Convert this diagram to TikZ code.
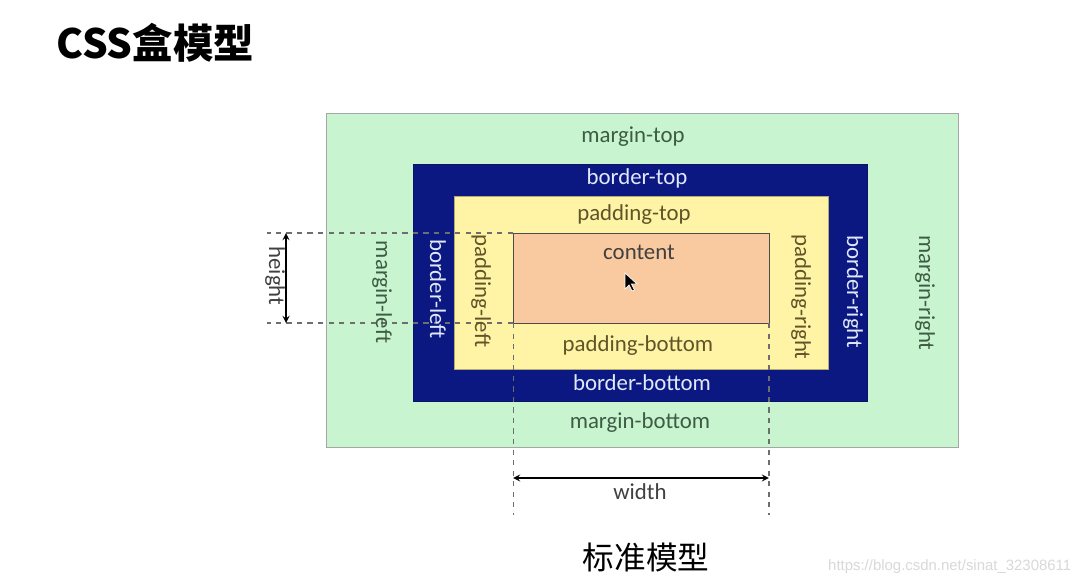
\documentclass[tikz,border=0pt]{standalone}
\usepackage{fontspec}
\usepackage{xcolor}
\usetikzlibrary{positioning}
\setmainfont{Carlito}
\newfontfamily\cjk{Noto Sans CJK SC}
\newfontfamily\urlfont{Liberation Sans}
\definecolor{mintgreen}{RGB}{200,244,208}
\definecolor{navyblue}{RGB}{12,24,130}
\definecolor{paleyellow}{RGB}{255,244,165}
\definecolor{peach}{RGB}{249,201,160}
\definecolor{margintext}{RGB}{62,92,68}
\definecolor{bordertext}{RGB}{225,232,250}
\definecolor{paddingtext}{RGB}{96,84,40}
\definecolor{guidegray}{RGB}{110,110,110}

\begin{document}
\begin{tikzpicture}[
    x=0.02cm, y=-0.02cm,
    font=\fontsize{13}{15}\selectfont,
    box/.style={draw, rectangle, inner sep=0pt, outer sep=0pt},
    lbl/.style={inner sep=1pt},
    side/.style={lbl, rotate=-90},
    guide/.style={draw=guidegray, dashed, line width=0.6pt},
    >=stealth,
  ]
    \useasboundingbox[fill=white] (0,0) rectangle (1090,586);

    \node[anchor=west, inner sep=0pt, font=\cjk\bfseries\fontsize{23}{26}\selectfont]
      (title) at (56,43) {CSS盒模型};

    % the four nested boxes
    \node[box, draw=gray!70, fill=mintgreen, minimum width=12.64cm, minimum height=6.68cm]
      (margin) at (642,280) {};
    \node[box, draw=navyblue!80!black, fill=navyblue, minimum width=9.08cm, minimum height=4.74cm]
      (border) at (640,282.5) {};
    \node[box, draw=paleyellow!70!black, fill=paleyellow, minimum width=7.48cm, minimum height=3.46cm]
      (padding) at (641,282.5) {};
    \node[box, draw=black!70, fill=peach, minimum width=5.12cm, minimum height=1.8cm]
      (content) at (641,278) {};

    % guide lines
    \coordinate (gl) at (267,0);
    \coordinate (gb) at (0,515);
    \coordinate (hx) at (286,0);
    \coordinate (wy) at (0,478);
    \draw[guide] (content.north west) -- (content.north west -| gl);
    \draw[guide] (content.south west) -- (content.south west -| gl);
    \draw[guide] (content.south west) -- (content.south west |- gb);
    \draw[guide] (content.south east) -- (content.south east |- gb);

    \draw[<->, line width=0.8pt] (content.north west -| hx) -- (content.south west -| hx);
    \draw[<->, line width=0.8pt] (content.south west |- wy) -- (content.south east |- wy);

    \node[side, text=black!75] (height) at (275,276) {height};
    \node[lbl, text=black!75] (width) at (640,492) {width};

    % labels
    \node[lbl, text=margintext] (mtop) at (633,137) {margin-top};
    \node[lbl, text=margintext] (mbottom) at (640,423) {margin-bottom};
    \node[side, text=margintext] (mleft) at (382,292) {margin-left};
    \node[side, text=margintext] (mright) at (925,293) {margin-right};

    \node[lbl, text=bordertext] (btop) at (637,178) {border-top};
    \node[lbl, text=bordertext] (bbottom) at (642,383) {border-bottom};
    \node[side, text=bordertext] (bleft) at (438,289) {border-left};
    \node[side, text=bordertext] (bright) at (853,292) {border-right};

    \node[lbl, text=paddingtext] (ptop) at (634,215) {padding-top};
    \node[lbl, text=paddingtext] (pbottom) at (638,346) {padding-bottom};
    \node[side, text=paddingtext] (pleft) at (481,291) {padding-left};
    \node[side, text=paddingtext] (pright) at (801,297) {padding-right};

    \node[lbl, text=black!75] (ctext) at (639,252) {content};

    % mouse pointer
    \filldraw[fill=black, draw=white, line width=0.4pt] (625,273) -- (625,289) -- (629,285)
      -- (632,291) -- (634.5,290) -- (631.5,284) -- (637,284) -- cycle;

    \node[font=\cjk\fontsize{18}{20}\selectfont] (caption) at (646,557) {标准模型};
    \node[anchor=west, text=black!15, font=\urlfont\fontsize{8.5}{10}\selectfont]
      (mark) at (822,567) {https://blog.csdn.net/sinat\_32308611};
  \end{tikzpicture}
\end{document}
